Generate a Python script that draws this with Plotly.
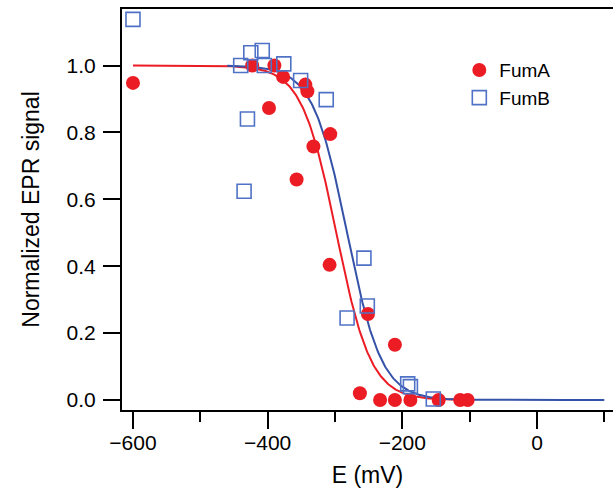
import numpy as np
import plotly.graph_objects as go

# Redox titration data: potential (mV) vs normalized EPR signal
fumA_E = [-600, -423, -390, -398, -377, -344, -341, -357, -332, -307,
          -308, -263, -251, -211, -233, -211, -188, -146, -114, -103]
fumA_sig = [0.948, 1.0, 1.0, 0.873, 0.966, 0.943, 0.923, 0.659, 0.758, 0.795,
            0.404, 0.02, 0.257, 0.165, 0.0, 0.0, 0.0, 0.0, 0.0, 0.0]

fumB_E = [-600, -440, -425, -408, -405, -376, -351, -313, -430, -435,
          -257, -252, -282, -192, -188, -154]
fumB_sig = [1.138, 1.0, 1.038, 1.045, 1.0, 1.005, 0.955, 0.898, 0.84, 0.624,
            0.424, 0.281, 0.245, 0.048, 0.040, 0.003]

# Nernst fits (n = 1): midpoint potentials in mV
fumA_Em = -298.0
fumB_Em = -282.0
n_electrons = 1
RT_F = 25.7  # mV at 25 C
fumA_fit_range = (-600, -100)
fumB_fit_range = (-460, 100)

x_ticks = [-600, -400, -200, 0]
y_ticks = [0.0, 0.2, 0.4, 0.6, 0.8, 1.0]


def nernst(E, Em):
    return 1.0 / (1.0 + np.exp(n_electrons * (E - Em) / RT_F))


RED = "#ec1c24"
BLUE_LINE = "#3552a8"
BLUE_MARK = "#5072c6"
FONT = "Liberation Sans, Arial, sans-serif"

fig = go.Figure()

eA = np.linspace(*fumA_fit_range, 400)
eB = np.linspace(*fumB_fit_range, 400)

fig.add_trace(go.Scatter(x=eA, y=nernst(eA, fumA_Em), mode="lines",
                         line=dict(color=RED, width=2), showlegend=False,
                         hoverinfo="skip"))
fig.add_trace(go.Scatter(x=eB, y=nernst(eB, fumB_Em), mode="lines",
                         line=dict(color=BLUE_LINE, width=2), showlegend=False,
                         hoverinfo="skip"))

fig.add_trace(go.Scatter(x=fumA_E, y=fumA_sig, mode="markers", name="FumA",
                         marker=dict(symbol="circle", size=14, color=RED,
                                     line=dict(width=0))))
fig.add_trace(go.Scatter(x=fumB_E, y=fumB_sig, mode="markers", name="FumB",
                         marker=dict(symbol="square-open", size=14,
                                     color=BLUE_MARK, line=dict(width=1.6))))

fig.update_layout(
    width=613, height=493,
    margin=dict(l=122, r=0, t=9, b=83),
    paper_bgcolor="white", plot_bgcolor="white",
    font=dict(family=FONT, size=21, color="black"),
    legend=dict(x=0.687, y=0.895, xanchor="left", yanchor="top",
                bgcolor="rgba(0,0,0,0)", font=dict(size=19),
                tracegroupgap=0),
    xaxis=dict(
        range=[-616.3, 112.9],
        tickmode="array", tickvals=x_ticks,
        ticks="outside", ticklen=17, tickwidth=2, tickcolor="black",
        ticklabelstandoff=-4,
        minor=dict(dtick=100, tick0=-500, ticks="outside", ticklen=10,
                   tickwidth=2, tickcolor="black", showgrid=False),
        showline=True, linewidth=2, linecolor="black", mirror=True,
        showgrid=False, zeroline=False,
        title=dict(text="E (mV)", standoff=14, font=dict(size=23)),
    ),
    yaxis=dict(
        range=[-0.030, 1.169],
        tickmode="array", tickvals=y_ticks, tickformat=".1f",
        ticks="outside", ticklen=17, tickwidth=2, tickcolor="black",
        ticklabelstandoff=3,
        showline=True, linewidth=2, linecolor="black", mirror=False,
        showgrid=False, zeroline=False,
        title=dict(text="Normalized EPR signal", standoff=21,
                   font=dict(size=23)),
    ),
)

fig.write_html("out.html")
